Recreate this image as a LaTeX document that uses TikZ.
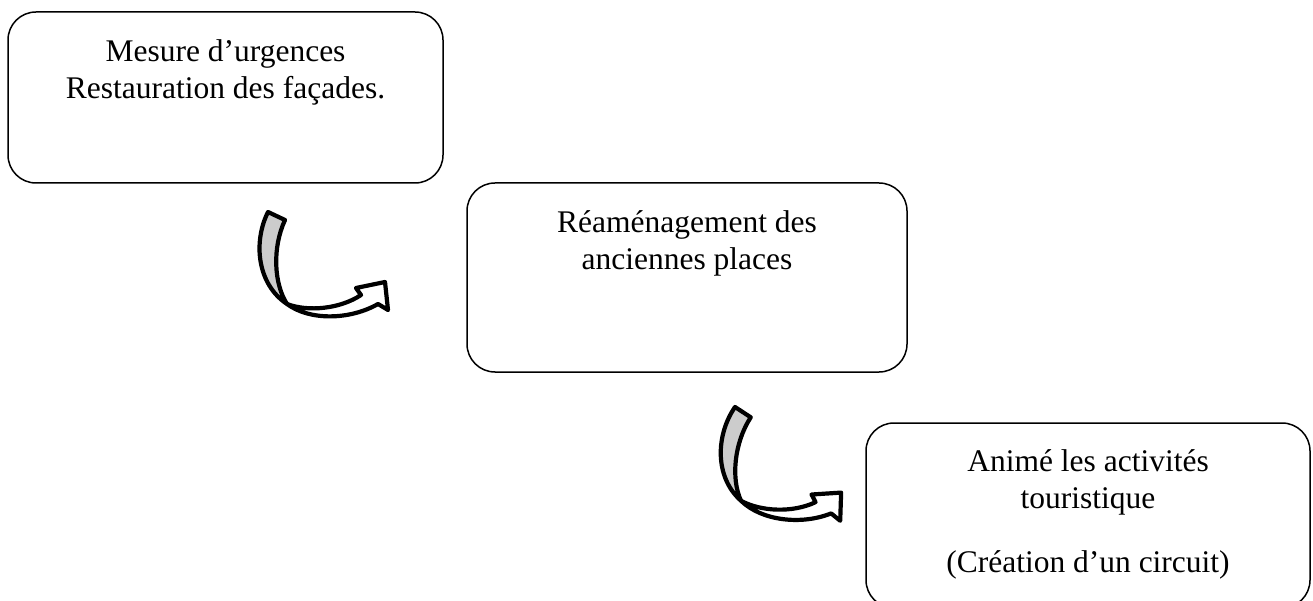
\documentclass[tikz,border=0pt]{standalone}
\usepackage{fontspec}
\setmainfont{Liberation Serif}
\usepackage{xcolor}
\usetikzlibrary{positioning}
\newcommand{\boxfont}{\fontsize{31.5}{37}\selectfont}
\tikzset{
    box/.style={draw, line width=1.5pt, rounded corners=28pt, inner sep=0pt},
    boxtext/.style={font=\boxfont, align=center, inner sep=0pt},
    twist/.pic={
        % white shaft and head
        \draw[line width=4.2pt, line join=round, fill=white]
            (19,92) .. controls (42,109) and (82,108) .. (110,92) -- (120,98) -- (117,70) -- (88,76) -- (93,83)
            .. controls (72,97) and (40,100) .. (19,92) -- cycle;
        % grey back face of the tail
        \draw[line width=4.2pt, line join=round, fill=gray!40]
            (0,0) .. controls (-15,30) and (-11,72) .. (19,92)
            .. controls (6,72) and (4,36) .. (17,8) -- cycle;
    }
}

\begin{document}
\begin{tikzpicture}[x=1pt, y=-1pt]
    \clip (0,0) rectangle (1313,601);
    \node[box, minimum width=435pt, minimum height=171pt] (b1) at (225.5,97.5) {};
    \node[box, minimum width=440pt, minimum height=189pt] (b2) at (687,277.5) {};
    \node[box, minimum width=444pt, minimum height=185pt] (b3) at (1088,515.5) {};
    \node[boxtext, below=28.5pt of b1.north] (t1) {Mesure d’urgences\\Restauration des façades.};
    \node[boxtext, below=28.5pt of b2.north] (t2) {Réaménagement des\\anciennes places};
    \node[boxtext, below=27.5pt of b3.north] (t3) {Animé les activités\\touristique\\[27pt](Création d’un circuit)};
    \pic at (268,212) {twist};
    \pic[rotate=-8] at (735,407) {twist};
\end{tikzpicture}
\end{document}
